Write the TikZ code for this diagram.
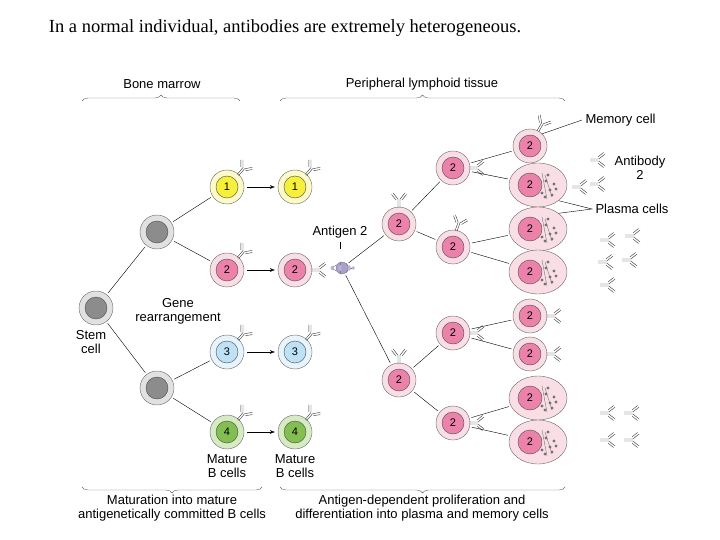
\documentclass[tikz,border=0pt]{standalone}
\usepackage{fontspec}
\setmainfont{Liberation Serif}
\newfontfamily\labfont{Liberation Sans}
\usetikzlibrary{shapes.geometric,decorations.pathreplacing,arrows.meta}
\definecolor{pinkin}{RGB}{236,130,170}
\definecolor{pinkout}{RGB}{250,222,230}
\definecolor{yelin}{RGB}{246,240,60}
\definecolor{yelout}{RGB}{252,250,200}
\definecolor{bluin}{RGB}{190,225,245}
\definecolor{bluout}{RGB}{232,244,252}
\definecolor{grnin}{RGB}{130,190,80}
\definecolor{grnout}{RGB}{215,235,195}
\definecolor{grayin}{RGB}{140,140,140}
\definecolor{grayout}{RGB}{225,225,225}
\definecolor{agcol}{RGB}{170,160,205}
\tikzset{
    cell/.style={circle, draw=black!60, fill=#1, minimum size=34pt, inner sep=0pt},
    nuc/.style={circle, draw=black!70, fill=#1, minimum size=22pt, inner sep=0pt,
        font=\labfont\fontsize{11}{12}\selectfont},
    plasma/.style={ellipse, draw=black!60, fill=pinkout, minimum width=58pt,
        minimum height=44pt, inner sep=0pt},
    lab/.style={font=\labfont\fontsize{13}{14}\selectfont, align=center},
    brace/.style={draw=black!60, decorate, decoration={brace, amplitude=6pt}},
    link/.style={draw, thin, shorten >=2pt, shorten <=2pt},
    ab/.pic={\draw[black!80, thin] (-1,0)--(-1,-9) (1,0)--(1,-9)
        (-1,-9)--(-6,-15) (1,-9)--(6,-15) (-3,-8)--(-7.5,-13.5) (3,-8)--(7.5,-13.5);}
}
\newcommand{\bcell}[5]{% name, x, y, outer, inner
    \node[cell=#4] (#1) at (#2,#3) {};
    \node[nuc=#5] at (#1) {};
}
\newcommand{\two}{\labfont\fontsize{11}{12}\selectfont 2}
\begin{document}
\begin{tikzpicture}[x=1pt, y=-1pt]
        \useasboundingbox (0,0) rectangle (720,540);
        \node[font=\fontsize{18.5}{22}\selectfont] at (285,28) {In a normal individual, antibodies are extremely heterogeneous.};
        % braces and headings
        \draw[brace] (82,101)--(240,101);
        \draw[brace] (280,101)--(565,101);
        \draw[brace] (262,487)--(82,487);
        \draw[brace] (565,487)--(280,487);
        \node[lab] at (162,84) {Bone marrow};
        \node[lab] at (422,84) {Peripheral lymphoid tissue};
        \node[lab] at (172,508) {Maturation into mature\\antigenetically committed B cells};
        \node[lab] at (422,508) {Antigen-dependent proliferation and\\differentiation into plasma and memory cells};
        % bone marrow
        \bcell{stem}{96}{308}{grayout}{grayin}
        \bcell{pre1}{157}{232}{grayout}{grayin}
        \bcell{pre2}{157}{388}{grayout}{grayin}
        \node[lab] at (91,342) {Stem\\cell};
        \node[lab] at (178,311) {Gene\\rearrangement};
        \draw[link] (stem)--(pre1);
        \draw[link] (stem)--(pre2);
        \foreach \n/\y/\c in {1/187/yel, 2/270/pink, 3/352/blu, 4/432/grn}{
            \node[cell=\c out] (b\n) at (227,\y) {};
            \node[nuc=\c in] at (b\n) {\n};
            \node[cell=\c out] (m\n) at (295,\y) {};
            \node[nuc=\c in] at (m\n) {\n};
            \draw[-{Stealth[length=5pt]}, shorten >=3pt, shorten <=3pt] (b\n)--(m\n);
            \pic[rotate=-40] at ([shift={(11,-12)}]b\n) {ab};
        }
        \foreach \n in {1,3,4}{\pic[rotate=-40] at ([shift={(11,-12)}]m\n) {ab};}
        \draw[link] (pre1)--(b1);
        \draw[link] (pre1)--(b2);
        \draw[link] (pre2)--(b3);
        \draw[link] (pre2)--(b4);
        \node[lab] at (227,466) {Mature\\B cells};
        \node[lab] at (295,466) {Mature\\B cells};
        % antigen 2
        \node[circle, fill=agcol, draw=black!50, minimum size=12pt, inner sep=0pt] (ag) at (342,268) {};
        \foreach \a in {0,50,100,150,210,260,310}{
            \draw[black!60] (ag.\a)--++(\a:5) node[circle, fill=agcol!80, inner sep=1.3pt] {};}
        \pic[rotate=-90] at ([shift={(16,0)}]m2) {ab};
        \node[lab] (agl) at (340,232) {Antigen 2};
        \draw (agl.south)--++(0,7);
        % proliferation
        \bcell{a1}{399}{224}{pinkout}{pinkin}
        \node at (a1) {\two};
        \bcell{a2}{399}{380}{pinkout}{pinkin}
        \node at (a2) {\two};
        \pic at ([shift={(0,-16)}]a1) {ab};
        \pic at ([shift={(0,-16)}]a2) {ab};
        \draw[link] (ag)--(a1);
        \draw[link] (ag)--(a2);
        \foreach \n/\y in {1/168, 2/247, 3/333, 4/423}{
            \bcell{c\n}{453}{\y}{pinkout}{pinkin}
            \node at (c\n) {\two};
        }
        \pic[rotate=-90] at ([shift={(16,0)}]c1) {ab};
        \pic[rotate=-90] at ([shift={(16,0)}]c4) {ab};
        \pic[rotate=-20] at ([shift={(3,-16)}]c2) {ab};
        \pic[rotate=-90] at ([shift={(16,0)}]c3) {ab};
        \draw[link] (a1)--(c1);
        \draw[link] (a1)--(c2);
        \draw[link] (a2)--(c3);
        \draw[link] (a2)--(c4);
        % memory cells and plasma cells
        \foreach \n/\y/\k in {1/146/m, 2/185/p, 3/229/p, 4/272/p, 5/316/m, 6/354/m, 7/398/p, 8/442/p}{
            \if\k m
                \bcell{r\n}{530}{\y}{pinkout}{pinkin}
            \else
                \node[plasma] (r\n) at (538,\y) {};
                \node[nuc=pinkin, minimum size=24pt] at (530,\y) {};
                \foreach \dx/\dy in {14/-4, 18/5, 10/8, 22/-1, 13/12, 20/10, 16/-10, 24/4}{
                    \fill[black!55] (532+\dx,\y+\dy) circle (1.6pt);}
                \draw[black!55] (542,\y-12) -- (547,\y+14) (545,\y-10) -- (552,\y+12);
            \fi
            \node at (530,\y) {\two};
        }
        \pic[rotate=-30] at ([shift={(8,-15)}]r1) {ab};
        \pic[rotate=-90] at ([shift={(16,0)}]r5) {ab};
        \pic[rotate=-90] at ([shift={(16,0)}]r6) {ab};
        \draw[link] (c1)--(r1);
        \draw[link] (c1)--(r2);
        \draw[link] (c2)--(r3);
        \draw[link] (c2)--(r4);
        \draw[link] (c3)--(r5);
        \draw[link] (c3)--(r6);
        \draw[link] (c4)--(r7);
        \draw[link] (c4)--(r8);
        % free antibodies
        \foreach \x/\y in {590/160, 590/184, 572/187, 600/240, 625/236, 598/262, 622/260, 600/285, 600/413, 624/413, 600/440, 624/440}{
            \pic[rotate=-90] at (\x,\y) {ab};}
        \node[lab, anchor=west] (meml) at (582,120) {Memory cell};
        \draw (r1.north east)--(meml.west);
        \node[lab] at (640,168) {Antibody\\2};
        \node[lab, anchor=west] (plal) at (592,209) {Plasma cells};
        \draw (r2.south east)--(plal.west)--(r3.north east);
\end{tikzpicture}
\end{document}
